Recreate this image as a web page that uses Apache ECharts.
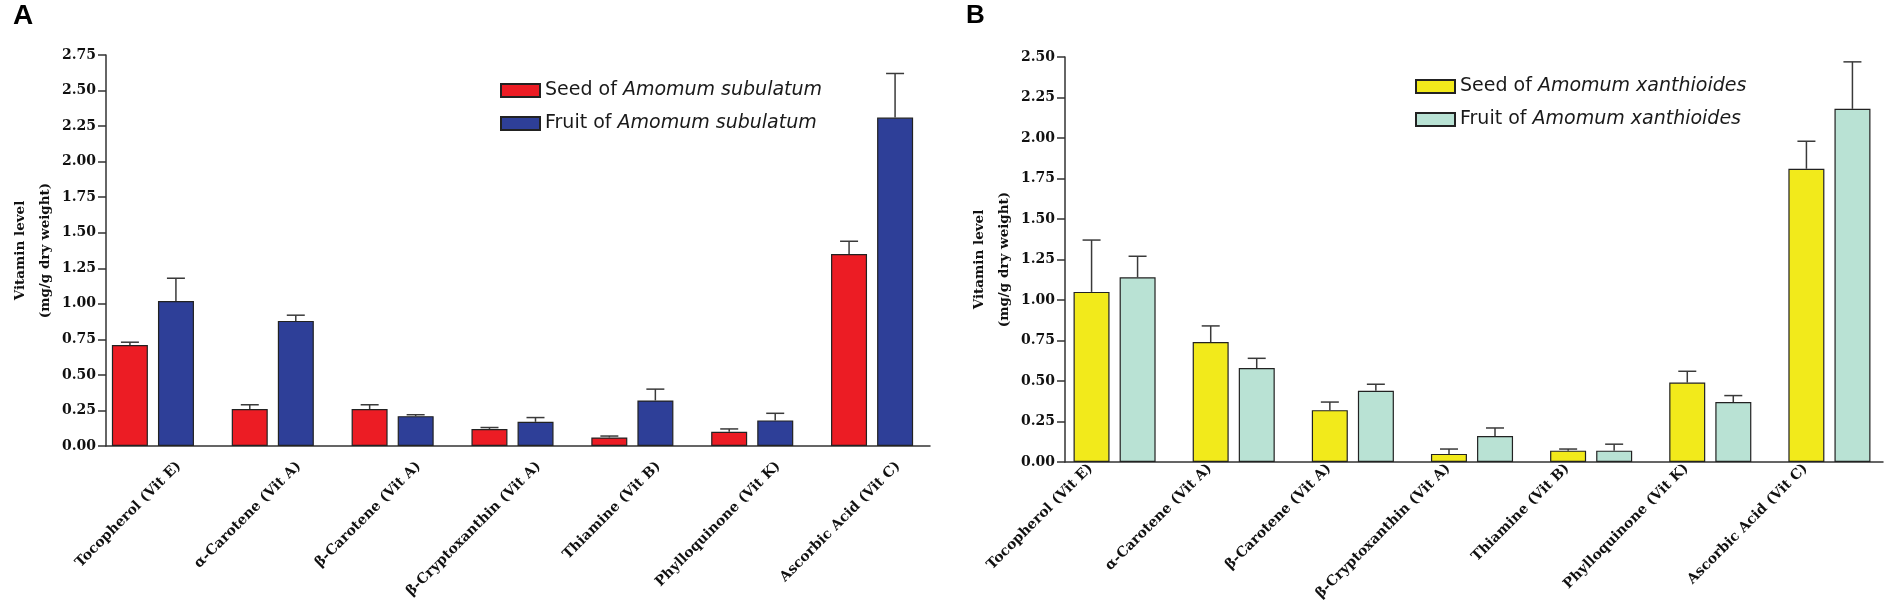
<!DOCTYPE html>
<html lang="en">
<head>
    <meta charset="UTF-8">
    <title>Vitamin levels in Amomum</title>
    <style>
        html, body { margin: 0; padding: 0; background: #fff; }
        #main { width: 1889px; height: 603px; }
    </style>
    <script src="https://cdn.jsdelivr.net/npm/echarts@6/dist/echarts.min.js"></script>
</head>
<body>
<div id="main"></div>
<script>
    // categories shared by both panels
    var categories = ['Tocopherol (Vit E)', 'α-Carotene (Vit A)', 'β-Carotene (Vit A)',
        'β-Cryptoxanthin (Vit A)', 'Thiamine (Vit B)', 'Phylloquinone (Vit K)', 'Ascorbic Acid (Vit C)'];

    // panel A - Amomum subulatum (mean, error)
    var seedA = [0.71, 0.26, 0.26, 0.12, 0.06, 0.10, 1.35];
    var seedAErr = [0.02, 0.03, 0.03, 0.01, 0.01, 0.02, 0.09];
    var fruitA = [1.02, 0.88, 0.21, 0.17, 0.32, 0.18, 2.31];
    var fruitAErr = [0.16, 0.04, 0.01, 0.03, 0.08, 0.05, 0.31];

    // panel B - Amomum xanthioides
    var seedB = [1.05, 0.74, 0.32, 0.05, 0.07, 0.49, 1.81];
    var seedBErr = [0.32, 0.10, 0.05, 0.03, 0.01, 0.07, 0.17];
    var fruitB = [1.14, 0.58, 0.44, 0.16, 0.07, 0.37, 2.18];
    var fruitBErr = [0.13, 0.06, 0.04, 0.05, 0.04, 0.04, 0.29];

    var yTicksA = {min: 0, max: 2.75, interval: 0.25};
    var yTicksB = {min: 0, max: 2.5, interval: 0.25};

    var serif = 'DejaVu Serif';
    var sans = 'DejaVu Sans';
    var axisColor = '#333';
    var BAR_W = 36, BAR_SHIFT = 23;

    function errorBars(gridIdx, values, errs, side) {
        return {
            type: 'custom',
            xAxisIndex: gridIdx,
            yAxisIndex: gridIdx,
            silent: true,
            z: 4,
            data: values.map(function (v, i) { return [i, v, v + errs[i]]; }),
            renderItem: function (params, api) {
                var base = api.coord([api.value(0), api.value(1)]);
                var top = api.coord([api.value(0), api.value(2)]);
                var x = base[0] + side * BAR_SHIFT;
                var st = {stroke: '#3a3a3a', lineWidth: 1.5};
                return {
                    type: 'group',
                    children: [
                        {type: 'line', shape: {x1: x, y1: base[1], x2: x, y2: top[1]}, style: st},
                        {type: 'line', shape: {x1: x - 9, y1: top[1], x2: x + 9, y2: top[1]}, style: st}
                    ]
                };
            }
        };
    }

    function bar(name, gridIdx, values, color) {
        return {
            type: 'bar',
            name: name,
            xAxisIndex: gridIdx,
            yAxisIndex: gridIdx,
            data: values,
            barWidth: BAR_W,
            barGap: '28%',
            z: 2,
            itemStyle: {color: color, borderColor: '#222', borderWidth: 1.2}
        };
    }

    function valueAxis(gridIdx, ticks, offset) {
        return {
            type: 'value',
            gridIndex: gridIdx,
            min: ticks.min,
            max: ticks.max,
            interval: ticks.interval,
            offset: offset,
            name: 'Vitamin level\n(mg/g dry weight)',
            nameLocation: 'middle',
            nameGap: 47,
            nameTextStyle: {fontFamily: serif, fontWeight: 'bold', fontSize: 13.5, lineHeight: 25, color: '#111'},
            axisLine: {show: true, lineStyle: {color: axisColor, width: 1.5}},
            axisTick: {show: true, length: 8, lineStyle: {color: axisColor, width: 1.5}},
            axisLabel: {
                margin: 10, color: '#111', fontFamily: serif, fontWeight: 'bold', fontSize: 14,
                formatter: function (v) { return v.toFixed(2); }
            },
            splitLine: {show: false}
        };
    }

    function legendText(name) {
        var k = name.indexOf(' of ') + 4;
        return '{n|' + name.slice(0, k) + '}{i|' + name.slice(k) + '}';
    }

    function legend(names, left, top, gap) {
        return {
            orient: 'vertical',
            left: left,
            top: top,
            padding: 0,
            icon: 'rect',
            itemWidth: 39,
            itemHeight: 13,
            itemGap: gap,
            data: names,
            formatter: legendText,
            textStyle: {
                rich: {
                    n: {fontFamily: sans, fontSize: 19, lineHeight: 20, color: '#1a1a1a'},
                    i: {fontFamily: sans, fontSize: 19, lineHeight: 20, fontStyle: 'italic', color: '#1a1a1a'}
                }
            }
        };
    }

    function labelAxis(gridIdx) {
        return {
            type: 'category', gridIndex: gridIdx, data: categories,
            axisLine: {show: false}, axisTick: {show: false},
            axisLabel: {interval: 0, rotate: 45, margin: 18, color: '#111', fontFamily: serif, fontWeight: 'bold', fontSize: 14}
        };
    }

    function lineAxis(gridIdx) {
        return {
            type: 'value', gridIndex: gridIdx,
            axisLine: {show: true, onZero: false, lineStyle: {color: axisColor, width: 1.5}},
            axisTick: {show: false}, axisLabel: {show: false}, splitLine: {show: false}
        };
    }

    var chart = echarts.init(document.getElementById('main'));
    var hidden = {show: false};

    var option = {
        animation: false,
        backgroundColor: '#fff',
        graphic: [
            {type: 'text', left: 13, top: 2, style: {text: 'A', font: 'bold 28px "Liberation Sans"', fill: '#000'}},
            {type: 'text', left: 966, top: 3, style: {text: 'B', font: 'bold 26px "Liberation Sans"', fill: '#000'}}
        ],
        legend: [
            legend(['Seed of Amomum subulatum', 'Fruit of Amomum subulatum'], 500, 81, 14),
            legend(['Seed of Amomum xanthioides', 'Fruit of Amomum xanthioides'], 1415, 77, 14)
        ],
        grid: [
            // panel A: bars, labels, x axis line
            {left: 93, top: 55, width: 839, height: 391},
            {left: 119, top: 55, width: 839, height: 391},
            {left: 106, top: 55, width: 824, height: 391},
            // panel B
            {left: 1055, top: 57, width: 834, height: 405},
            {left: 1031, top: 57, width: 834, height: 405},
            {left: 1065, top: 57, width: 818, height: 405}
        ],
        xAxis: [
            {type: 'category', gridIndex: 0, data: categories, axisLine: hidden, axisTick: hidden, axisLabel: hidden},
            labelAxis(1),
            lineAxis(2),
            {type: 'category', gridIndex: 3, data: categories, axisLine: hidden, axisTick: hidden, axisLabel: hidden},
            labelAxis(4),
            lineAxis(5)
        ],
        yAxis: [
            valueAxis(0, yTicksA, -13),
            {type: 'value', gridIndex: 1, show: false},
            {type: 'value', gridIndex: 2, show: false},
            valueAxis(3, yTicksB, -10),
            {type: 'value', gridIndex: 4, show: false},
            {type: 'value', gridIndex: 5, show: false}
        ],
        series: [
            bar('Seed of Amomum subulatum', 0, seedA, '#ec1c24'),
            bar('Fruit of Amomum subulatum', 0, fruitA, '#2e3f98'),
            errorBars(0, seedA, seedAErr, -1),
            errorBars(0, fruitA, fruitAErr, 1),
            bar('Seed of Amomum xanthioides', 3, seedB, '#f2ea1b'),
            bar('Fruit of Amomum xanthioides', 3, fruitB, '#b9e2d4'),
            errorBars(3, seedB, seedBErr, -1),
            errorBars(3, fruitB, fruitBErr, 1)
        ]
    };
    chart.setOption(option);
</script>
</body>
</html>
